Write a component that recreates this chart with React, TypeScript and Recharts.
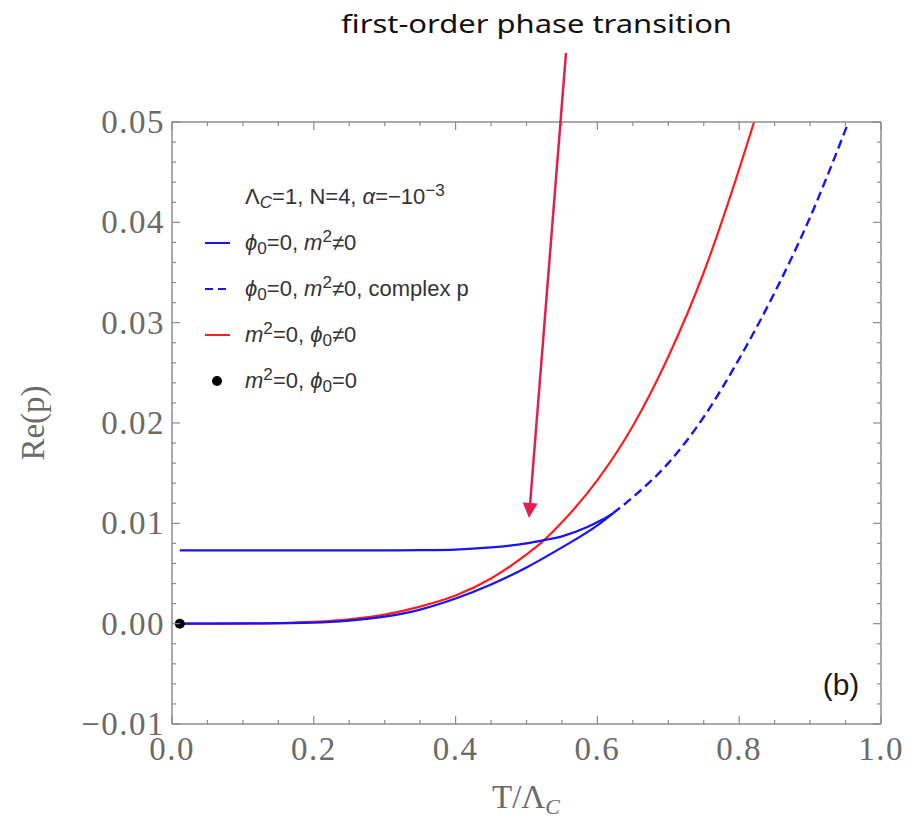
import React from 'react';
import { ComposedChart, Line, Scatter, XAxis, YAxis, Legend } from 'recharts';

// phi0=0, m^2!=0 : lower branch (T, Re p)
const lowerBranch = [
  { T: 0.011, p: 0 },
  { T: 0.1, p: 0.00002 },
  { T: 0.2, p: 0.0001 },
  { T: 0.25, p: 0.0003 },
  { T: 0.3, p: 0.0007 },
  { T: 0.35, p: 0.0014 },
  { T: 0.4, p: 0.0025 },
  { T: 0.45, p: 0.0039 },
  { T: 0.5, p: 0.0056 },
  { T: 0.55, p: 0.0076 },
  { T: 0.6, p: 0.0098 },
  { T: 0.622, p: 0.011 },
];

// phi0=0, m^2!=0 : upper branch
const upperBranch = [
  { T: 0.011, p: 0.0073 },
  { T: 0.1, p: 0.0073 },
  { T: 0.2, p: 0.0073 },
  { T: 0.3, p: 0.0073 },
  { T: 0.35, p: 0.00732 },
  { T: 0.4, p: 0.00738 },
  { T: 0.45, p: 0.0076 },
  { T: 0.5, p: 0.008 },
  { T: 0.523, p: 0.0083 },
  { T: 0.55, p: 0.0087 },
  { T: 0.585, p: 0.0096 },
  { T: 0.605, p: 0.0103 },
  { T: 0.622, p: 0.011 },
];

// complex p continuation (dashed)
const complexBranch = [
  { T: 0.622, p: 0.011 },
  { T: 0.65, p: 0.0126 },
  { T: 0.7, p: 0.016 },
  { T: 0.75, p: 0.0206 },
  { T: 0.8, p: 0.0264 },
  { T: 0.85, p: 0.033 },
  { T: 0.9, p: 0.0405 },
  { T: 0.952, p: 0.0496 },
];

// m^2=0, phi0!=0
const redBranch = [
  { T: 0.011, p: 0 },
  { T: 0.1, p: 0.00001 },
  { T: 0.15, p: 0.00006 },
  { T: 0.2, p: 0.00018 },
  { T: 0.25, p: 0.00043 },
  { T: 0.3, p: 0.0009 },
  { T: 0.35, p: 0.0017 },
  { T: 0.4, p: 0.0028 },
  { T: 0.45, p: 0.0045 },
  { T: 0.5, p: 0.0069 },
  { T: 0.523, p: 0.0082 },
  { T: 0.55, p: 0.0101 },
  { T: 0.6, p: 0.0143 },
  { T: 0.65, p: 0.0197 },
  { T: 0.7, p: 0.0266 },
  { T: 0.75, p: 0.035 },
  { T: 0.8, p: 0.0453 },
  { T: 0.821, p: 0.05 },
];

// m^2=0, phi0=0
const originPoint = [{ T: 0.011, p: 0 }];

const xMajor = [0, 0.2, 0.4, 0.6, 0.8, 1.0];
const yMajor = [-0.01, 0, 0.01, 0.02, 0.03, 0.04, 0.05];

const xTicks = xMajor.flatMap((v, i) =>
  i < xMajor.length - 1 ? [v, v + 0.05, v + 0.1, v + 0.15] : [v]
);
const yTicks = yMajor.flatMap((v, i) =>
  i < yMajor.length - 1 ? [v, v + 0.002, v + 0.004, v + 0.006, v + 0.008] : [v]
);

const W = 911;
const H = 819;
const AXIS = '#8c8c8c';
const TICKTEXT = '#6a6a6a';
const BLUE = '#1414f5';
const RED = '#ff1c1c';
const ARROW = '#e0214f';
const SERIF = '"Liberation Serif", "Times New Roman", serif';
const SANS = '"Liberation Sans", Arial, sans-serif';

const fmtY = (v: number) => (v < 0 ? '\u2212' : '') + Math.abs(v).toFixed(2);

function BottomTick(props: any) {
  const { x, y, index, payload } = props;
  const major = index % 4 === 0;
  return (
    <g>
      <line x1={x} y1={y} x2={x} y2={y - (major ? 8 : 4)} stroke={AXIS} strokeWidth={1.2} />
      {major && (
        <text x={x} y={y + 36} textAnchor="middle" fontFamily={SERIF} fontSize={33} fill={TICKTEXT} letterSpacing={1.5}>
          {payload.value.toFixed(1)}
        </text>
      )}
    </g>
  );
}

function TopTick(props: any) {
  const { x, y, index } = props;
  const major = index % 4 === 0;
  return <line x1={x} y1={y} x2={x} y2={y + (major ? 8 : 4)} stroke={AXIS} strokeWidth={1.2} />;
}

function LeftTick(props: any) {
  const { x, y, index, payload } = props;
  const major = index % 5 === 0;
  return (
    <g>
      <line x1={x} y1={y} x2={x + (major ? 8 : 4)} y2={y} stroke={AXIS} strokeWidth={1.2} />
      {major && (
        <text x={x - 7} y={y + 11} textAnchor="end" fontFamily={SERIF} fontSize={33} fill={TICKTEXT} letterSpacing={1.5}>
          {fmtY(payload.value)}
        </text>
      )}
    </g>
  );
}

function RightTick(props: any) {
  const { x, y, index } = props;
  const major = index % 5 === 0;
  return <line x1={x} y1={y} x2={x - (major ? 8 : 4)} y2={y} stroke={AXIS} strokeWidth={1.2} />;
}

const sub = { fontSize: '0.78em', verticalAlign: '-0.25em', lineHeight: 0 } as const;
const sup = { fontSize: '0.78em', verticalAlign: '0.45em', lineHeight: 0 } as const;

const legendRows = [
  {
    kind: 'solid',
    color: BLUE,
    label: (
      <>
        <i>ϕ</i><span style={sub}>0</span>=0, <i>m</i><span style={sup}>2</span>≠0
      </>
    ),
  },
  {
    kind: 'dash',
    color: BLUE,
    label: (
      <>
        <i>ϕ</i><span style={sub}>0</span>=0, <i>m</i><span style={sup}>2</span>≠0, complex p
      </>
    ),
  },
  {
    kind: 'solid',
    color: RED,
    label: (
      <>
        <i>m</i><span style={sup}>2</span>=0, <i>ϕ</i><span style={sub}>0</span>≠0
      </>
    ),
  },
  {
    kind: 'dot',
    color: '#000',
    label: (
      <>
        <i>m</i><span style={sup}>2</span>=0, <i>ϕ</i><span style={sub}>0</span>=0
      </>
    ),
  },
];

function LegendBox() {
  const rowStyle = { display: 'flex', alignItems: 'center', height: 46 } as const;
  return (
    <div style={{ fontFamily: SANS, fontSize: 22, color: '#333', whiteSpace: 'nowrap' }}>
      <div style={rowStyle}>
        <span style={{ width: 55, display: 'inline-block' }} />
        <span>
          Λ<span style={sub}><i>C</i></span>=1, N=4, <i>α</i>=−10<span style={sup}>−3</span>
        </span>
      </div>
      {legendRows.map((r, i) => (
        <div key={i} style={rowStyle}>
          <svg width={55} height={20} style={{ flex: 'none' }}>
            {r.kind === 'dot' ? (
              <circle cx={27} cy={10} r={5} fill={r.color} />
            ) : (
              <line
                x1={15}
                y1={10}
                x2={40}
                y2={10}
                stroke={r.color}
                strokeWidth={2}
                strokeDasharray={r.kind === 'dash' ? '8 5' : undefined}
              />
            )}
          </svg>
          <span>{r.label}</span>
        </div>
      ))}
    </div>
  );
}

export default function App() {
  return (
    <div style={{ position: 'absolute', left: 0, top: 0, width: W, height: H, background: '#fff' }}>
      <ComposedChart width={W} height={H} margin={{ top: 102, right: 20, bottom: 55, left: 112 }}>
        <XAxis
          type="number"
          dataKey="T"
          domain={[0, 1]}
          allowDataOverflow
          ticks={xTicks}
          interval={0}
          tickSize={0}
          tickMargin={0}
          tick={BottomTick}
          tickLine={false}
          axisLine={{ stroke: AXIS, strokeWidth: 1.5 }}
          height={40}
        />
        <XAxis
          xAxisId="top"
          orientation="top"
          type="number"
          dataKey="T"
          domain={[0, 1]}
          allowDataOverflow
          ticks={xTicks}
          interval={0}
          tickSize={0}
          tickMargin={0}
          tick={TopTick}
          tickLine={false}
          axisLine={{ stroke: AXIS, strokeWidth: 1.5 }}
          height={20}
        />
        <YAxis
          type="number"
          dataKey="p"
          domain={[-0.01, 0.05]}
          allowDataOverflow
          ticks={yTicks}
          interval={0}
          tickSize={0}
          tickMargin={0}
          tick={LeftTick}
          tickLine={false}
          axisLine={{ stroke: AXIS, strokeWidth: 1.5 }}
          width={60}
        />
        <YAxis
          yAxisId="right"
          orientation="right"
          type="number"
          dataKey="p"
          domain={[-0.01, 0.05]}
          allowDataOverflow
          ticks={yTicks}
          interval={0}
          tickSize={0}
          tickMargin={0}
          tick={RightTick}
          tickLine={false}
          axisLine={{ stroke: AXIS, strokeWidth: 1.5 }}
          width={10}
        />
        <Legend
          layout="horizontal"
          verticalAlign="middle"
          align="center"
          content={LegendBox}
          wrapperStyle={{ left: 190, top: 174, width: 380, height: 230 }}
        />
        <Line data={redBranch} dataKey="p" type="monotone" stroke={RED} strokeWidth={2.2} dot={false} isAnimationActive={false} legendType="none" />
        <Line data={complexBranch} dataKey="p" type="monotone" stroke={BLUE} strokeWidth={2.4} strokeDasharray="9 5" dot={false} isAnimationActive={false} legendType="none" />
        <Line data={lowerBranch} dataKey="p" type="monotone" stroke={BLUE} strokeWidth={2.2} dot={false} isAnimationActive={false} legendType="none" />
        <Line data={upperBranch} dataKey="p" type="monotone" stroke={BLUE} strokeWidth={2.2} dot={false} isAnimationActive={false} legendType="none" />
        <Scatter
          data={originPoint}
          dataKey="p"
          isAnimationActive={false}
          legendType="none"
          shape={(s: any) => <circle cx={s.cx} cy={s.cy} r={5} fill="#000" />}
        />
      </ComposedChart>
      <svg width={W} height={H} style={{ position: 'absolute', left: 0, top: 0, pointerEvents: 'none' }}>
        <text x={341} y={33} fontFamily='"Noto Sans", sans-serif' fontSize={26} fill="#111" textLength={391} lengthAdjust="spacingAndGlyphs">
          first-order phase transition
        </text>
        <line x1={566} y1={53} x2={530} y2={505} stroke={ARROW} strokeWidth={2.5} />
        <polygon points="529,518 537.7,503.6 522.7,502.4" fill={ARROW} />
        <text x={841} y={695} textAnchor="middle" fontFamily={SANS} fontSize={30} fill="#1a1a1a">
          (b)
        </text>
        <text
          transform="translate(44, 423) rotate(-90)"
          textAnchor="middle"
          fontFamily={SERIF}
          fontSize={33}
          fill={TICKTEXT}
        >
          Re(p)
        </text>
        <text x={526} y={808} textAnchor="middle" fontFamily={SERIF} fontSize={33} fill={TICKTEXT}>
          T/Λ<tspan fontSize={22} dy={6} fontStyle="italic">C</tspan>
        </text>
      </svg>
    </div>
  );
}
